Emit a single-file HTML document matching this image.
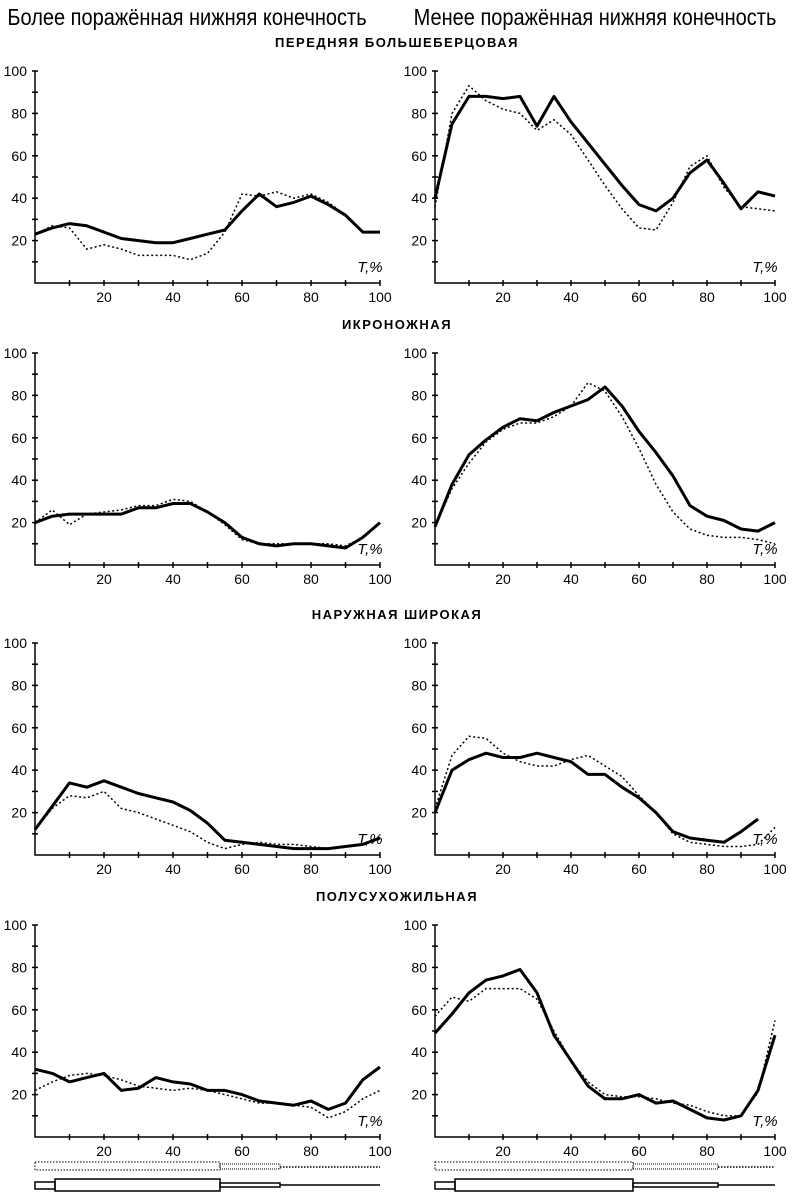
<!DOCTYPE html>
<html><head><meta charset="utf-8">
<style>
body{margin:0;background:#fff;width:795px;height:1200px;overflow:hidden}
svg{display:block}
text{font-family:"Liberation Sans",sans-serif;fill:#000}
</style></head>
<body>
<svg id="c" width="795" height="1200" viewBox="0 0 795 1200">
<text x="187" y="25" font-size="23" text-anchor="middle" transform="translate(187,0) scale(0.87,1) translate(-187,0)">Более поражённая нижняя конечность</text>
<text x="595" y="25" font-size="23" text-anchor="middle" transform="translate(595,0) scale(0.87,1) translate(-595,0)">Менее поражённая нижняя конечность</text>
</svg>
<script>
const xs=[0,5,10,15,20,25,30,35,40,45,50,55,60,65,70,75,80,85,90,95,100];
const titles=["ПЕРЕДНЯЯ  БОЛЬШЕБЕРЦОВАЯ","ИКРОНОЖНАЯ","НАРУЖНАЯ  ШИРОКАЯ","ПОЛУСУХОЖИЛЬНАЯ"];
const p1LeftSolid=[23,26,28,27,24,21,20,19,19,21,23,25,34,42,36,38,41,37,32,24,24];
const p1LeftDot=[23,27,26,16,18,16,13,13,13,11,14,24,42,41,43,40,42,38,32,24,24];
const p1RightSolid=[40,75,88,88,87,88,74,88,76,66,56,46,37,34,40,52,58,47,35,43,41];
const p1RightDot=[36,80,93,86,82,80,72,77,70,58,46,35,26,25,38,55,60,45,36,35,34];
const p2LeftSolid=[20,23,24,24,24,24,27,27,29,29,25,20,13,10,9,10,10,9,8,13,20];
const p2LeftDot=[20,26,19,24,25,26,28,28,31,30,25,19,12,10,10,10,10,10,9,13,20];
const p2RightSolid=[18,38,52,59,65,69,68,72,75,78,84,75,63,53,42,28,23,21,17,16,20];
const p2RightDot=[18,36,48,58,64,67,67,70,75,86,82,70,55,38,25,17,14,13,13,12,10];
const p3LeftSolid=[12,23,34,32,35,32,29,27,25,21,15,7,6,5,4,3,3,3,4,5,8];
const p3LeftDot=[12,22,28,27,30,22,20,17,14,11,6,3,5,6,5,5,4,3,4,5,8];
const p3RightSolid=[20,40,45,48,46,46,48,46,44,38,38,32,27,20,11,8,7,6,11,17,null];
const p3RightDot=[22,47,56,55,48,44,42,42,45,47,42,37,28,20,10,6,5,4,4,5,13];
const p4LeftSolid=[32,30,26,28,30,22,23,28,26,25,22,22,20,17,16,15,17,13,16,27,33];
const p4LeftDot=[22,26,29,30,29,27,24,23,22,23,22,20,18,16,16,15,14,9,12,18,22];
const p4RightSolid=[49,58,68,74,76,79,68,48,36,24,18,18,20,16,17,13,9,8,10,22,48];
const p4RightDot=[57,66,64,70,70,70,65,50,36,26,20,19,19,18,16,15,12,10,10,21,55];
const series=[[p1LeftSolid,p1LeftDot,p1RightSolid,p1RightDot],[p2LeftSolid,p2LeftDot,p2RightSolid,p2RightDot],[p3LeftSolid,p3LeftDot,p3RightSolid,p3RightDot],[p4LeftSolid,p4LeftDot,p4RightSolid,p4RightDot]];
const yTicks=[20,40,60,80,100];
const xTicks=[20,40,60,80,100];

const svg=document.getElementById('c');
const NS='http://www.w3.org/2000/svg';
function mk(t,a,parent){const e=document.createElementNS(NS,t);for(const k in a)e.setAttribute(k,a[k]);(parent||svg).appendChild(e);return e;}
const baselines=[283,565,855,1137];
const cols=[{x0:35,x1:380},{x0:435,x1:775}];
const yScale=2.12;
baselines.forEach((b,r)=>{
  const tt=mk('text',{x:397,y:b-236,'font-size':13,'font-weight':'900','text-anchor':'middle','letter-spacing':'1.5'});
  tt.textContent=titles[r];
  
  
  cols.forEach((c,ci)=>{
    const g=mk('g',{});
    
    
    const X=v=>c.x0+(c.x1-c.x0)*v/100;
    const Y=v=>b-v*yScale;
    const ax=mk('path',{d:`M${c.x0},${Y(100)}V${b}H${c.x1}`,stroke:'#000','stroke-width':1.5,fill:'none'},g);
    
    
    for(let v=10;v<=100;v+=10){
      mk('line',{x1:c.x0-3,x2:c.x0+3,y1:Y(v),y2:Y(v),stroke:'#000','stroke-width':1.5},g);
      mk('line',{x1:X(v),x2:X(v),y1:b-3,y2:b+3,stroke:'#000','stroke-width':1.5},g);
    }
    yTicks.forEach(v=>{const t=mk('text',{x:c.x0-8,y:Y(v)+5,'font-size':14,'text-anchor':'end'},g);t.textContent=v;
      
      });
    xTicks.forEach(v=>{const t=mk('text',{x:X(v),y:b+19,'font-size':14,'text-anchor':'middle'},g);t.textContent=v;
      
      });
    const tl=mk('text',{x:c.x1-10,y:b-11,'font-size':15,'font-style':'italic','text-anchor':'middle','font-family':'Liberation Serif'},g);tl.textContent='T,%';
    
    
    const s=series[r];
    [[s[ci*2],'solid'],[s[ci*2+1],'dotted']].forEach(([arr,kind])=>{
      let d='';arr.forEach((v,i)=>{if(v==null)return;d+=(d?'L':'M')+X(xs[i]).toFixed(1)+','+Y(v).toFixed(1);});
      const p=mk('path',kind=='solid'?{d,stroke:'#000','stroke-width':3,fill:'none','stroke-linejoin':'round'}:{d,stroke:'#000','stroke-width':1.5,fill:'none','stroke-dasharray':'2,2.5'},g);
      
      
    });
  });
});
[[35,220,280,380],[435,633,718,775]].forEach((q,i)=>{
  const g=mk('g',{});
  
  
  mk('rect',{x:q[0],y:1162,width:q[1]-q[0],height:8,fill:'none',stroke:'#000','stroke-width':1,'stroke-dasharray':'1.5,1.5'},g);
  mk('rect',{x:q[1],y:1164,width:q[2]-q[1],height:5,fill:'none',stroke:'#000','stroke-width':1,'stroke-dasharray':'1,1'},g);
  mk('line',{x1:q[2],x2:q[3],y1:1167,y2:1167,stroke:'#000','stroke-width':1.5,'stroke-dasharray':'1.5,1.5'},g);
  mk('rect',{x:q[0],y:1182,width:20,height:7,fill:'none',stroke:'#000','stroke-width':1.5},g);
  mk('rect',{x:q[0]+20,y:1179,width:q[1]-q[0]-20,height:12,fill:'none',stroke:'#000','stroke-width':1.5},g);
  mk('rect',{x:q[1],y:1183,width:q[2]-q[1],height:4,fill:'none',stroke:'#000','stroke-width':1.5},g);
  mk('line',{x1:q[2],x2:q[3],y1:1185,y2:1185,stroke:'#000','stroke-width':1.5},g);
});
</script>
</body></html>
